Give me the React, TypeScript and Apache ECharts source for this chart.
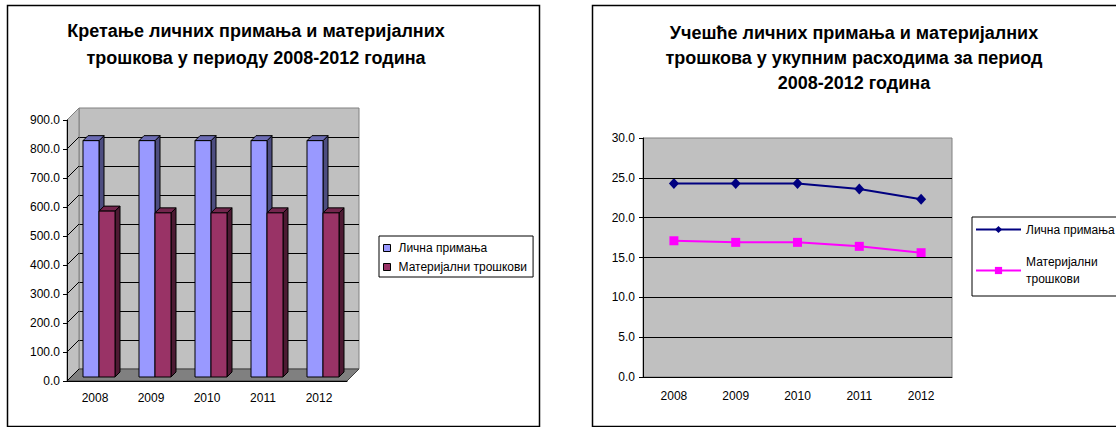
import React, { useEffect, useRef } from 'react';
import * as echarts from 'echarts';

// ---------- data ----------
const years = ['2008', '2009', '2010', '2011', '2012'];
const nameIncome = 'Лична примања';
const nameMaterial = 'Материјални трошкови';
const incomeAmounts = [815, 815, 815, 815, 815];
const materialAmounts = [572, 566, 566, 566, 566];
const amountTicks = [0, 100, 200, 300, 400, 500, 600, 700, 800, 900];
const incomeShare = [24.3, 24.3, 24.3, 23.6, 22.3];
const materialShare = [17.1, 16.9, 16.9, 16.4, 15.6];
const leftTitle = 'Кретање личних примања и материјалних\nтрошкова у периоду 2008-2012 година';
const rightTitle = 'Учешће личних примања и материјалних\nтрошкова у укупним расходима за период\n2008-2012 година';

// ---------- style / layout ----------
const FONT = 'Liberation Sans, Arial, sans-serif';
const DEPTH = 12;
const SHIFT = 4;
const BAR_W = 16;
const BAR_D = 5;

const barColors = [
  { front: '#9999FF', top: '#6B6BB3', side: '#4D4D80' },
  { front: '#993366', top: '#73264D', side: '#4D1A33' },
];

function makeBarSeries(name: string, values: number[], k: number) {
  const c = barColors[k];
  return {
    type: 'custom',
    name,
    xAxisIndex: 1,
    yAxisIndex: 1,
    z: 3,
    itemStyle: { color: c.front },
    data: values.map((v, i) => [i, v]),
    encode: { x: 0, y: 1 },
    renderItem: (params: any, api: any) => {
      const idx = api.value(0);
      const v = api.value(1);
      const top = api.coord([idx, v]);
      const bot = api.coord([idx, 0]);
      const cx = top[0] + SHIFT;
      const xL = k === 0 ? cx - BAR_W : cx;
      const xR = xL + BAR_W;
      const yT = top[1] - SHIFT;
      const yB = bot[1] - SHIFT;
      const stroke = { stroke: '#000', lineWidth: 1 };
      return {
        type: 'group',
        children: [
          {
            type: 'polygon',
            shape: { points: [[xR, yT], [xR + BAR_D, yT - BAR_D], [xR + BAR_D, yB - BAR_D], [xR, yB]] },
            style: { fill: c.side, ...stroke },
          },
          {
            type: 'polygon',
            shape: { points: [[xL, yT], [xR, yT], [xR + BAR_D, yT - BAR_D], [xL + BAR_D, yT - BAR_D]] },
            style: { fill: c.top, ...stroke },
          },
          {
            type: 'rect',
            shape: { x: xL, y: yT, width: BAR_W, height: yB - yT },
            style: { fill: c.front, ...stroke },
          },
        ],
      };
    },
  };
}

function leftOption(): any {
  return {
    animation: false,
    backgroundColor: '#fff',
    textStyle: { fontFamily: FONT },
    graphic: [
      {
        type: 'rect',
        shape: { x: 7.5, y: 5.5, width: 532, height: 421 },
        style: { fill: 'none', stroke: '#000', lineWidth: 1.5 },
      },
      {
        type: 'text',
        x: 256,
        y: 17,
        style: {
          text: leftTitle,
          font: 'bold 18px ' + FONT,
          fill: '#000',
          textAlign: 'center',
          lineHeight: 27,
        },
      },
    ],
    legend: {
      orient: 'vertical',
      left: 379,
      top: 236,
      padding: [6, 6, 4, 4],
      itemGap: 7,
      itemWidth: 7,
      itemHeight: 7,
      icon: 'rect',
      borderColor: '#000',
      borderWidth: 1,
      backgroundColor: '#fff',
      itemStyle: { borderColor: '#000', borderWidth: 1 },
      textStyle: { fontSize: 12, color: '#000', fontFamily: FONT, padding: [0, 0, 0, 3] },
      data: [
        { name: nameIncome, itemStyle: { color: barColors[0].front } },
        { name: nameMaterial, itemStyle: { color: barColors[1].front } },
      ],
    },
    grid: [
      {
        left: 67 + DEPTH, top: 120 - DEPTH, width: 280, height: 261,
        show: true, backgroundColor: '#C0C0C0', borderColor: '#808080', borderWidth: 1,
      },
      { left: 67, top: 120, width: 280, height: 261 },
    ],
    xAxis: [
      { gridIndex: 0, type: 'category', data: years, show: false },
      {
        gridIndex: 1, type: 'category', data: years, z: 6,
        axisLine: { lineStyle: { color: '#000', width: 1 } },
        axisTick: { length: 4, lineStyle: { color: '#000' } },
        axisLabel: { fontSize: 12, color: '#000', margin: 11, fontFamily: FONT },
      },
    ],
    yAxis: [
      {
        gridIndex: 0, type: 'value', min: 0, max: 900, interval: 100,
        axisLine: { show: false }, axisTick: { show: false }, axisLabel: { show: false },
        splitLine: { show: true, showMaxLine: false, lineStyle: { color: '#000', width: 1 } },
      },
      {
        gridIndex: 1, type: 'value', min: 0, max: 900, interval: 100, z: 6,
        axisLine: { show: true, lineStyle: { color: '#000', width: 1 } },
        axisTick: { show: true, length: 4, lineStyle: { color: '#000' } },
        axisLabel: { fontSize: 12, color: '#000', margin: 7, fontFamily: FONT, formatter: (v: number) => v.toFixed(1) },
        splitLine: { show: false },
      },
    ],
    series: [
      {
        type: 'custom',
        name: 'frame',
        xAxisIndex: 1,
        yAxisIndex: 1,
        z: 1,
        silent: true,
        data: [[0, 0]],
        renderItem: (params: any, api: any) => {
          const cs = params.coordSys;
          const x0 = cs.x, x1 = cs.x + cs.width, yt = cs.y, yb = cs.y + cs.height;
          const children: any[] = [
            {
              type: 'polygon',
              shape: { points: [[x0, yb], [x0 + DEPTH, yb - DEPTH], [x0 + DEPTH, yt - DEPTH], [x0, yt]] },
              style: { fill: '#C0C0C0', stroke: '#808080', lineWidth: 1 },
            },
            {
              type: 'polygon',
              shape: { points: [[x0, yb], [x1, yb], [x1 + DEPTH, yb - DEPTH], [x0 + DEPTH, yb - DEPTH]] },
              style: { fill: '#808080', stroke: '#404040', lineWidth: 1 },
            },
          ];
          amountTicks.forEach((t, i) => {
            const y = api.coord([0, t])[1];
            children.push({
              type: 'line',
              shape: { x1: x0, y1: y, x2: x0 + DEPTH, y2: y - DEPTH },
              style: { stroke: i === amountTicks.length - 1 ? '#808080' : '#000', lineWidth: 1 },
            });
          });
          return { type: 'group', children };
        },
      },
      makeBarSeries(nameIncome, incomeAmounts, 0),
      makeBarSeries(nameMaterial, materialAmounts, 1),
    ],
  };
}

function rightOption(): any {
  return {
    animation: false,
    textStyle: { fontFamily: FONT },
    graphic: [
      {
        type: 'rect',
        shape: { x: 592.5, y: 5.5, width: 600, height: 421 },
        style: { fill: 'none', stroke: '#000', lineWidth: 1.5 },
      },
      {
        type: 'text',
        x: 854,
        y: 20,
        style: {
          text: rightTitle,
          font: 'bold 18px ' + FONT,
          fill: '#000',
          textAlign: 'center',
          lineHeight: 25,
        },
      },
    ],
    legend: {
      orient: 'vertical',
      left: 972,
      top: 217,
      padding: [4, 14, 0, 3],
      itemGap: 7,
      itemWidth: 45,
      itemHeight: 9,
      borderColor: '#000',
      borderWidth: 1,
      backgroundColor: '#fff',
      textStyle: { fontSize: 12, color: '#000', fontFamily: FONT, lineHeight: 17 },
      formatter: (n: string) => (n === nameMaterial ? 'Материјални\nтрошкови' : n),
      data: [
        { name: nameIncome },
        { name: nameMaterial, textStyle: { padding: [17, 0, 0, 0], lineHeight: 17 } },
      ],
    },
    grid: {
      left: 643, top: 138, width: 309, height: 239,
      show: true, backgroundColor: '#C0C0C0', borderColor: '#808080', borderWidth: 1,
    },
    xAxis: {
      type: 'category', data: years, z: 6,
      axisLine: { lineStyle: { color: '#000', width: 1 } },
      axisTick: { length: 4, lineStyle: { color: '#000' } },
      axisLabel: { fontSize: 12, color: '#000', margin: 13, fontFamily: FONT },
    },
    yAxis: {
      type: 'value', min: 0, max: 30, interval: 5, z: 6,
      axisLine: { show: true, lineStyle: { color: '#000', width: 1 } },
      axisTick: { show: true, length: 4, lineStyle: { color: '#000' } },
      axisLabel: { fontSize: 12, color: '#000', margin: 8, fontFamily: FONT, formatter: (v: number) => v.toFixed(1) },
      splitLine: { show: true, showMaxLine: false, showMinLine: false, lineStyle: { color: '#000', width: 1 } },
    },
    series: [
      {
        type: 'line',
        name: nameIncome,
        data: incomeShare,
        symbol: 'diamond',
        symbolSize: [10, 11],
        color: '#000080',
        itemStyle: { color: '#000080' },
        lineStyle: { color: '#000080', width: 2 },
      },
      {
        type: 'line',
        name: nameMaterial,
        data: materialShare,
        symbol: 'rect',
        symbolSize: 9,
        color: '#FF00FF',
        itemStyle: { color: '#FF00FF' },
        lineStyle: { color: '#FF00FF', width: 2 },
      },
    ],
  };
}

export default function App() {
  const leftRef = useRef<HTMLDivElement>(null);
  const rightRef = useRef<HTMLDivElement>(null);

  useEffect(() => {
    const a = echarts.init(leftRef.current!, undefined, { renderer: 'svg' });
    a.setOption(leftOption());
    const b = echarts.init(rightRef.current!, undefined, { renderer: 'svg' });
    b.setOption(rightOption());
    return () => {
      a.dispose();
      b.dispose();
    };
  }, []);

  const box: React.CSSProperties = { position: 'absolute', left: 0, top: 0, width: 1116, height: 427 };
  return (
    <div style={{ ...box, background: '#fff' }}>
      <div ref={leftRef} style={box} />
      <div ref={rightRef} style={box} />
    </div>
  );
}
